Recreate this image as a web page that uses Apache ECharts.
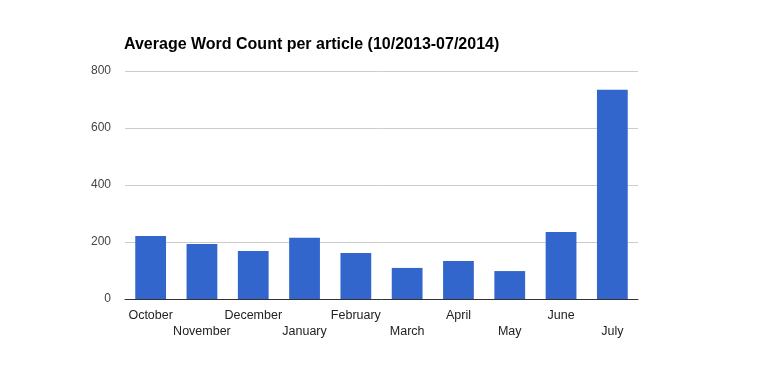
<!DOCTYPE html>
<html>
<head>
<meta charset="utf-8">
<script src="https://cdn.jsdelivr.net/npm/echarts@6/dist/echarts.min.js"></script>
<style>html,body{margin:0;padding:0;background:#fff}#c{width:763px;height:371px}</style>
</head>
<body>
<div id="c"></div>
<script>
const categories = ['October','November','December','January','February','March','April','May','June','July'];
const wordCounts = [221, 193, 168, 215, 161, 109, 133, 98, 235, 734];
const yTicks = [0, 200, 400, 600, 800];

const chart = echarts.init(document.getElementById('c'));
chart.setOption({
  animation: false,
  title: {
    text: 'Average Word Count per article (10/2013-07/2014)',
    left: 119, top: 32,
    textStyle: {fontFamily: 'Liberation Sans, Arial', fontSize: 16, fontWeight: 'bold', color: '#000'}
  },
  grid: {left: 125, right: 125, top: 71, bottom: 72},
  xAxis: {
    type: 'category',
    data: categories,
    axisTick: {show: false},
    axisLine: {lineStyle: {color: '#333', width: 1}},
    axisLabel: {
      interval: 0,
      margin: 9,
      fontFamily: 'Liberation Sans, Arial', fontSize: 12.5, color: '#222',
      lineHeight: 16,
      formatter: (v, i) => (i % 2 ? '\n' + v : v)
    }
  },
  yAxis: {
    type: 'value',
    min: yTicks[0], max: yTicks[yTicks.length - 1], interval: 200,
    axisLine: {show: false},
    axisTick: {show: false},
    splitLine: {lineStyle: {color: '#cccccc'}},
    axisLabel: {margin: 14, fontFamily: 'Liberation Sans, Arial', fontSize: 12, color: '#444'}
  },
  series: [{
    type: 'bar',
    data: wordCounts,
    barWidth: '60%',
    itemStyle: {color: '#3366cc'}
  }]
});
</script>
</body>
</html>
